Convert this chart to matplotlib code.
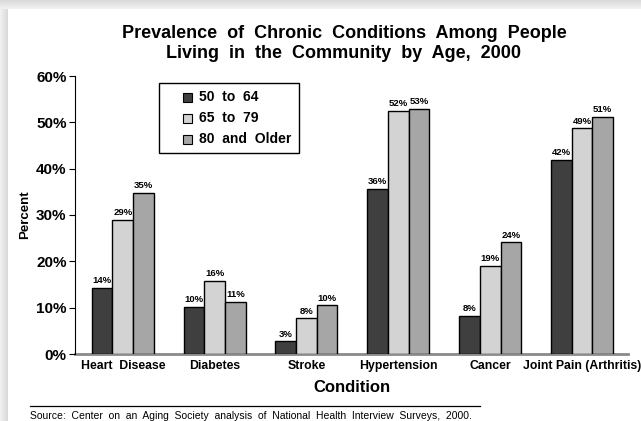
import numpy as np
import matplotlib
matplotlib.use("Agg")
import matplotlib.pyplot as plt
from matplotlib.colors import LinearSegmentedColormap
from matplotlib.patches import Rectangle

plt.rcParams['font.family'] = ['Liberation Sans', 'DejaVu Sans']

conditions = ['Heart  Disease', 'Diabetes', 'Stroke', 'Hypertension', 'Cancer', 'Joint Pain (Arthritis)']
age_groups = ['50  to  64', '65  to  79', '80  and  Older']
ages_50_64 = [14.3, 10.1, 2.7, 35.6, 8.2, 41.9]
ages_65_79 = [28.9, 15.7, 7.7, 52.4, 19.0, 48.7]
ages_80_up = [34.7, 11.2, 10.5, 52.9, 24.1, 51.2]
bar_colors = ['#3f3f3f', '#d3d3d3', '#a6a6a6']

fig = plt.figure(figsize=(6.41, 4.21), dpi=100)
fig.patch.set_facecolor('white')

# light grey frame along the left and top edges
frame_cmap = LinearSegmentedColormap.from_list('frame', ['#f2f2f2', '#d9d9d9'])
grad = np.linspace(0, 1, 50).reshape(1, -1)
left = fig.add_axes([0, 0, 8 / 641, 1])
left.imshow(grad, aspect='auto', cmap=frame_cmap, extent=[0, 1, 0, 1])
left.axis('off')
top = fig.add_axes([0, 1 - 9 / 421, 1, 9 / 421])
top.imshow(grad.T[::-1], aspect='auto', cmap=frame_cmap, extent=[0, 1, 0, 1])
top.axis('off')

ax = fig.add_axes([75 / 641, 1 - 354 / 421, 553 / 641, (354 - 76) / 421])
x = np.arange(len(conditions))
w = 0.225
series = [ages_50_64, ages_65_79, ages_80_up]
for k, (vals, col) in enumerate(zip(series, bar_colors)):
    bars = ax.bar(x + (k - 1) * w, vals, w, color=col, edgecolor='black', linewidth=1.0, zorder=2)
    for b, v in zip(bars, vals):
        ax.text(b.get_x() + b.get_width() / 2, v + 0.6, f'{v:.0f}%', ha='center', va='bottom',
                fontsize=6.8, fontweight='bold')

ax.set_xlim(-0.52, 5.5)
ax.set_ylim(0, 60)
ax.set_yticks(np.arange(0, 61, 10))
ax.set_yticklabels([f'{t}%' for t in range(0, 61, 10)], fontsize=11, fontweight='bold')
ax.set_xticks(x)
ax.set_xticklabels(conditions, fontsize=8.8, fontweight='bold')
ax.tick_params(axis='x', length=0, pad=4)
ax.tick_params(axis='y', length=4, width=0.8, pad=2)
for s in ['top', 'right']:
    ax.spines[s].set_visible(False)
ax.spines['left'].set_linewidth(0.8)
ax.spines['bottom'].set_color('#8a8a8a')
ax.spines['bottom'].set_linewidth(2)
ax.spines['bottom'].set_zorder(1)

ax.set_ylabel('Percent', fontsize=9.5, fontweight='bold')
ax.yaxis.set_label_coords(-0.08, 0.5)
ax.set_xlabel('Condition', fontsize=12, fontweight='bold', labelpad=6)

# legend box drawn by hand so the swatches sit indented inside the frame
fig.add_artist(Rectangle((159 / 641, 1 - 153 / 421), 140 / 641, 70 / 421, transform=fig.transFigure,
                         facecolor='white', edgecolor='black', linewidth=1.0))
for i, (lab, col) in enumerate(zip(age_groups, bar_colors)):
    yc = 1 - (97 + 21 * i) / 421
    fig.add_artist(Rectangle((183 / 641, yc - 4.5 / 421), 9 / 641, 9 / 421, transform=fig.transFigure,
                             facecolor=col, edgecolor='black', linewidth=0.8))
    fig.text(199 / 641, yc, lab, ha='left', va='center', fontsize=10, fontweight='bold')

fig.text(344 / 641, 1 - 34 / 421, 'Prevalence  of  Chronic  Conditions  Among  People',
         ha='center', va='center', fontsize=13, fontweight='bold')
fig.text(344 / 641, 1 - 54 / 421, 'Living  in  the  Community  by  Age,  2000',
         ha='center', va='center', fontsize=13, fontweight='bold')

fig.add_artist(plt.Line2D([30 / 641, 480 / 641], [1 - 406 / 421] * 2, color='black', linewidth=0.9))
fig.text(30 / 641, 1 - 416 / 421,
         'Source:  Center  on  an  Aging  Society  analysis  of  National  Health  Interview  Surveys,  2000.',
         ha='left', va='center', fontsize=7.5)

fig.savefig('out.png', dpi=100)
